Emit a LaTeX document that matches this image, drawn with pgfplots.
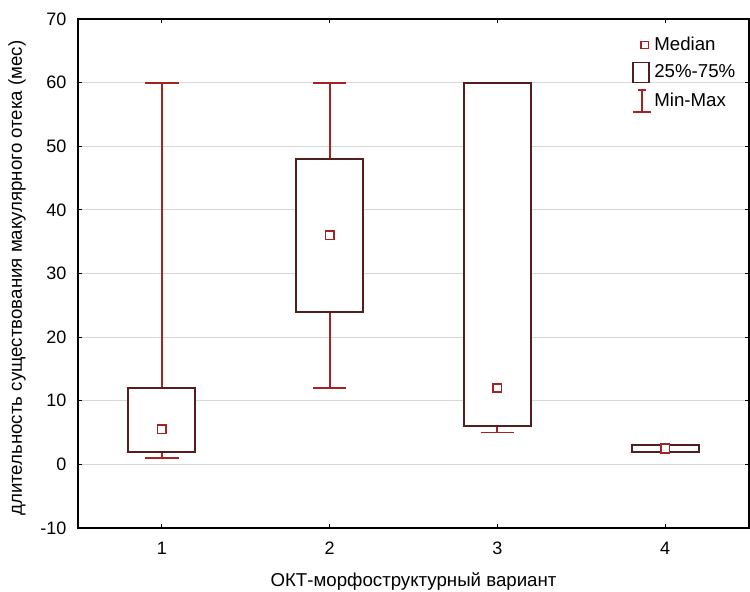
\documentclass[border=0pt]{standalone}
\usepackage{fontspec}
\setmainfont{Liberation Sans}
\usepackage{pgfplots}
\pgfplotsset{compat=1.18}
\usepgfplotslibrary{statistics}
\definecolor{wred}{RGB}{165,35,35}
\definecolor{boxc}{RGB}{85,30,30}
\definecolor{gridc}{RGB}{215,215,215}
\begin{document}
\begin{tikzpicture}
\begin{axis}[
  scale only axis, width=503.25pt, height=381.75pt,
  xmin=0.5, xmax=4.5, ymin=-10, ymax=70,
  xtick={1,2,3,4}, xticklabels={1,2,3,4},
  ytick={-10,0,10,20,30,40,50,60,70},
  yticklabels={-10,0,10,20,30,40,50,60,70},
  tick align=inside, major tick length=3pt,
  ymajorgrids, grid style={gridc, line width=0.7pt},
  axis line style={line width=0.9pt},
  tick style={black, line width=0.7pt},
  font=\fontsize{14}{16}\selectfont,
  ticklabel style={font=\fontsize{13.5}{15}\selectfont},
  yticklabel style={inner sep=0pt, anchor=east, xshift=-8.5pt},
  xticklabel style={inner sep=0pt, anchor=north, yshift=-10.3pt},
  xlabel={ОКТ-морфоструктурный вариант},
  ylabel={длительность существования макулярного отека (мес)},
  xlabel style={at={(axis description cs:0.5,-0.105)}, anchor=center},
  ylabel style={at={(axis description cs:-0.0909,0.491)}, anchor=center},
  boxplot/draw direction=y,
  boxplot/box extend=0.4,
  boxplot/whisker extend=0.2,
  boxplot/every box/.style={draw=boxc, line width=1.4pt, fill=white},
  boxplot/every whisker/.style={draw=wred, line width=1.4pt},
  boxplot/draw/median/.code={},
  legend cell align=left,
  legend style={draw=none, fill=none, at={(axis description cs:0.82,0.975)}, anchor=north west,
    row sep=4.5pt, font=\fontsize{14}{16}\selectfont},
]
\addlegendimage{only marks, wred, mark=square*, mark size=2.7pt, mark options={draw=wred, fill=white, line width=1.2pt}}
\addlegendimage{legend image code/.code={\draw[boxc, line width=1.4pt, fill=white] (0pt,-7.5pt) rectangle (12pt,7.5pt);}}
\addlegendimage{legend image code/.code={%
  \draw[wred, line width=1.4pt] (6.5pt,-8pt) -- (6.5pt,8pt);
  \draw[wred, line width=1.4pt] (3.5pt,8pt) -- (9.5pt,8pt);
  \draw[wred, line width=1.4pt] (0pt,-8pt) -- (13pt,-8pt);}}
\legend{Median,25\%-75\%,Min-Max}

\addplot[boxc, boxplot prepared={draw position=1, lower whisker=1, lower quartile=2, median=5.5, upper quartile=12, upper whisker=60}] coordinates {};
\addplot[boxc, boxplot prepared={draw position=2, lower whisker=12, lower quartile=24, median=36, upper quartile=48, upper whisker=60}] coordinates {};
\addplot[boxc, boxplot prepared={draw position=3, lower whisker=5, lower quartile=6, median=12, upper quartile=60, upper whisker=60}] coordinates {};
\addplot[boxc, boxplot prepared={draw position=4, lower whisker=2, lower quartile=2, median=2.5, upper quartile=3, upper whisker=3}] coordinates {};

\addplot[wred, only marks, mark=square*, mark size=3.2pt, mark options={draw=wred, fill=white, line width=1.2pt}, forget plot]
  coordinates {(1,5.5) (2,36) (3,12) (4,2.5)};
\end{axis}
\pgfresetboundingbox
\path[use as bounding box] ([shift={(-58.5pt,-48pt)}]current axis.south west) rectangle ([shift={(0.75pt,14.25pt)}]current axis.north east);
\end{tikzpicture}
\end{document}
